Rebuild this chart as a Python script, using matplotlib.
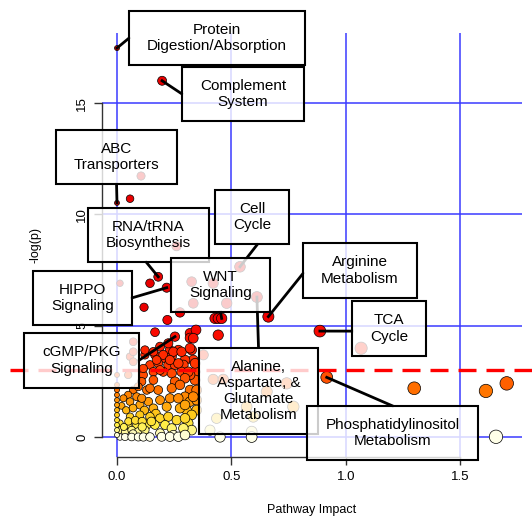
import numpy as np
import matplotlib.pyplot as plt
from matplotlib.colors import LinearSegmentedColormap, Normalize
from matplotlib.patches import Rectangle
from matplotlib.ticker import FormatStrFormatter

plt.rcParams['font.family'] = ['Liberation Sans', 'DejaVu Sans']

# labelled pathways
hit_names = [
    "Protein\nDigestion/Absorption",
    "Complement\nSystem",
    "ABC\nTransporters",
    "RNA/tRNA\nBiosynthesis",
    "Cell\nCycle",
    "HIPPO\nSignaling",
    "WNT\nSignaling",
    "Arginine\nMetabolism",
    "TCA\nCycle",
    "cGMP/PKG\nSignaling",
    "Alanine,\nAspartate, &\nGlutamate\nMetabolism",
    "Phosphatidylinositol\nMetabolism",
]
hit_impact = [0.000, 0.197, 0.000, 0.180, 0.537, 0.217, 0.457, 0.661, 0.886, 0.253, 0.611, 0.916]
hit_logp = [17.48, 16.01, 10.52, 7.20, 7.65, 6.71, 5.33, 5.41, 4.76, 4.51, 6.29, 2.68]

# every other pathway
other_impact = [
    0.057, 0.105, 0.260, 0.013, 0.144, 0.326, 0.420, 0.333, 0.479, 0.118,
    0.275, 0.220, 0.428, 0.442, 0.442, 0.166, 0.319, 0.345, 0.319, 0.071,
    0.333, 1.066, 0.377, 0.057, 0.071, 0.071, 0.049, 0.326, 0.333, 0.297,
    0.341, 0.341, 0.231, 0.268, 0.210, 0.239, 0.166, 0.122, 0.144, 0.180,
    0.224, 0.253, 0.290, 0.115, 0.159, 0.202, 0.239, 0.282, 0.319, 0.159,
    0.108, 0.122, 0.159, 0.188, 0.224, 0.202, 0.246, 0.282, 0.319, 0.173,
    0.231, 0.268, 0.341, 0.115, 0.188, 0.311, 0.253, 0.297, 0.420, 0.464,
    0.741, 0.654, 0.770, 0.566, 0.595, 0.435, 0.406, 0.588, 0.450, 0.588,
    0.319, 0.297, 0.319, 0.304, 0.348, 0.348, 0.348, 0.071, 0.049, 0.086,
    0.130, 0.180, 0.239, 0.275, 0.137, 0.188, 0.231, 0.268, 0.100, 0.159,
    0.217, 0.275, 0.093, 0.144, 0.333, 0.028, 0.057, 0.108, 0.297, 0.020,
    0.040, 0.070, 0.120, 0.170,
    0.326, 0.311, 0.326, 0.290, 0.057, 0.100, 0.144, 0.188, 0.224, 0.261,
    0.297, 0.013, 0.049, 0.086, 0.130, 0.166, 0.210, 0.239, 0.188, 0.246,
    0.013, 0.035, 0.064, 0.093, 0.122, 0.050, 0.080, 0.110, 0.150, 0.030,
    0.070, 0.110,
    0.013, 0.035, 0.064, 0.093, 0.115, 0.144, 0.195, 0.231, 0.268, 0.297,
    0.000, 0.000, 0.000, 0.000, 0.000, 0.000, 0.000, 0.000, 0.000, 0.000,
    0.000, 0.000,
    1.298, 1.611, 1.702, 1.655,
]
other_logp = [
    10.71, 11.73, 8.58, 6.91, 6.91, 6.98, 6.91, 6.01, 6.01, 5.83,
    5.60, 5.26, 5.33, 5.33, 4.58, 4.71, 4.66, 4.81, 4.45, 4.28,
    4.44, 3.99, 3.69, 3.61, 3.83, 3.38, 2.79, 3.91, 3.46, 3.46,
    2.93, 2.56, 3.91, 3.91, 3.54, 3.61, 3.69, 3.69, 3.24, 3.31,
    3.24, 3.24, 3.24, 2.79, 2.93, 2.93, 2.86, 2.93, 2.79, 2.56,
    2.49, 3.91, 3.83, 4.06, 4.21, 3.69, 3.83, 3.83, 3.99, 3.46,
    3.46, 3.31, 3.31, 3.08, 3.01, 2.93, 2.49, 2.64, 2.59, 2.59,
    2.41, 2.04, 1.36, 1.36, 0.91, 0.84, 0.31, 0.24, 0.00, 0.00,
    2.11, 1.81, 1.59, 1.21, 2.11, 1.66, 1.21, 2.11, 1.89, 1.81,
    2.11, 2.11, 2.19, 2.34, 1.59, 1.66, 1.74, 1.74, 1.44, 1.29,
    1.36, 1.29, 2.26, 2.19, 1.81, 1.74, 1.59, 1.74, 1.44, 1.40,
    1.20, 1.30, 1.20, 1.05,
    0.99, 0.62, 0.31, 0.39, 0.91, 0.99, 0.91, 0.84, 0.91, 0.76,
    0.84, 0.62, 0.54, 0.54, 0.54, 0.54, 0.54, 0.39, 0.17, 0.09,
    0.31, 0.24, 0.31, 0.24, 0.31, 0.70, 0.75, 0.70, 0.70, 0.45,
    0.15, 0.45,
    0.00, 0.00, 0.00, 0.00, 0.00, 0.00, 0.01, 0.01, 0.01, 0.09,
    2.79, 2.34, 2.11, 1.89, 1.66, 1.44, 1.21, 0.99, 0.76, 0.54,
    0.31, 0.09,
    2.19, 2.07, 2.41, 0.01,
]

# where each label box sits and where its leader line meets the box edge
label_pos = [(0.437, 17.93), (0.550, 15.42), (-0.002, 12.58), (0.138, 9.08),
             (0.590, 9.87), (-0.151, 6.25), (0.452, 6.83), (1.061, 7.48),
             (1.188, 4.88), (-0.155, 3.44), (0.618, 2.07), (1.203, 0.18)]
leader_rel = [(0, 0.5), (0, 0.5), (0.5, 0), (0.48, 0), (0.57, 0), (1, 0.5),
              (0.5, 0), (0, 0.45), (0, 0.45), (1, 0.5), (0.5, 1), (0.5, 1)]

alpha_cut = -np.log(0.05)

x = np.array(other_impact + hit_impact)
y = np.array(other_logp + hit_logp)

heat = LinearSegmentedColormap.from_list("heat", [
    (0.0, "#FFFFE8"), (0.5 / 6, "#FFF04A"), (1 / 6, "#FFC81A"),
    (1.5 / 6, "#FF9E0A"), (2 / 6, "#FF7A00"), (2.5 / 6, "#FF5A00"),
    (3 / 6, "#FF4000"), (4 / 6, "#FF2000"), (5 / 6, "#F50000"), (1.0, "#E80000")])
colors = heat(Normalize(0, 6, clip=True)(y))
diam = 5 + 8.5 * (x / 1.7) ** 0.35          # marker diameter in pixels
sizes = (diam * 0.72) ** 2

fig = plt.figure(figsize=(5.32, 5.19), dpi=100)
ax = fig.add_axes([102 / 532, 1 - 457 / 519, 420 / 532, 424 / 519])
ax.set_xlim(-0.0655, 1.7686)
ax.set_ylim(-0.899, 18.157)

ax.set_axisbelow(True)
ax.grid(True, color="#3a3aff", lw=1.1)
ax.set_xticks([0, 0.5, 1.0, 1.5])
ax.set_yticks([0, 5, 10, 15])
ax.xaxis.set_major_formatter(FormatStrFormatter("%.1f"))
for s in ["top", "right"]:
    ax.spines[s].set_visible(False)
ax.spines["left"].set_bounds(0, 15)
ax.spines["bottom"].set_bounds(0, 1.5)
for s in ["left", "bottom"]:
    ax.spines[s].set_color("#333333")
    ax.spines[s].set_linewidth(1)
ax.tick_params(length=6, width=1, color="#333333", labelsize=9.5, pad=4)
plt.setp(ax.get_yticklabels(), rotation=90, va="center")

ax.scatter(x, y, s=sizes, c=colors, edgecolors="black", linewidths=0.5, zorder=2)

ax.plot([-0.22, 1.03], [alpha_cut, alpha_cut], transform=ax.get_yaxis_transform(),
        color="#FF0000", lw=2.4, dashes=(5.4, 3.0), clip_on=False, zorder=2.5)

fig.text(312 / 532, 1 - 510 / 519, "Pathway Impact", ha="center", va="center", fontsize=9)
fig.text(35 / 532, 1 - 245 / 519, "-log(p)", ha="center", va="center", fontsize=9, rotation=90)

texts = []
for name, (lx, ly) in zip(hit_names, label_pos):
    t = ax.text(lx, ly, name, ha="center", va="center", fontsize=11,
                linespacing=1.2, zorder=5, clip_on=False)
    texts.append(t)

fig.canvas.draw()
renderer = fig.canvas.get_renderer()
inv = ax.transData.inverted()
for t, (rx, ry), px, py in zip(texts, leader_rel, hit_impact, hit_logp):
    bb = t.get_window_extent(renderer)
    (x0, y0), (x1, y1) = inv.transform([(bb.x0 - 18, bb.y0 - 12), (bb.x1 + 18, bb.y1 + 12)])
    ax.add_patch(Rectangle((x0, y0), x1 - x0, y1 - y0, facecolor=(1, 1, 1, 0.8),
                           edgecolor="black", lw=1.5, zorder=4, clip_on=False))
    ex, ey = x0 + rx * (x1 - x0), y0 + ry * (y1 - y0)
    ax.plot([px, ex], [py, ey], color="black", lw=2, zorder=3, clip_on=False)

fig.savefig("out.png", dpi=100)
